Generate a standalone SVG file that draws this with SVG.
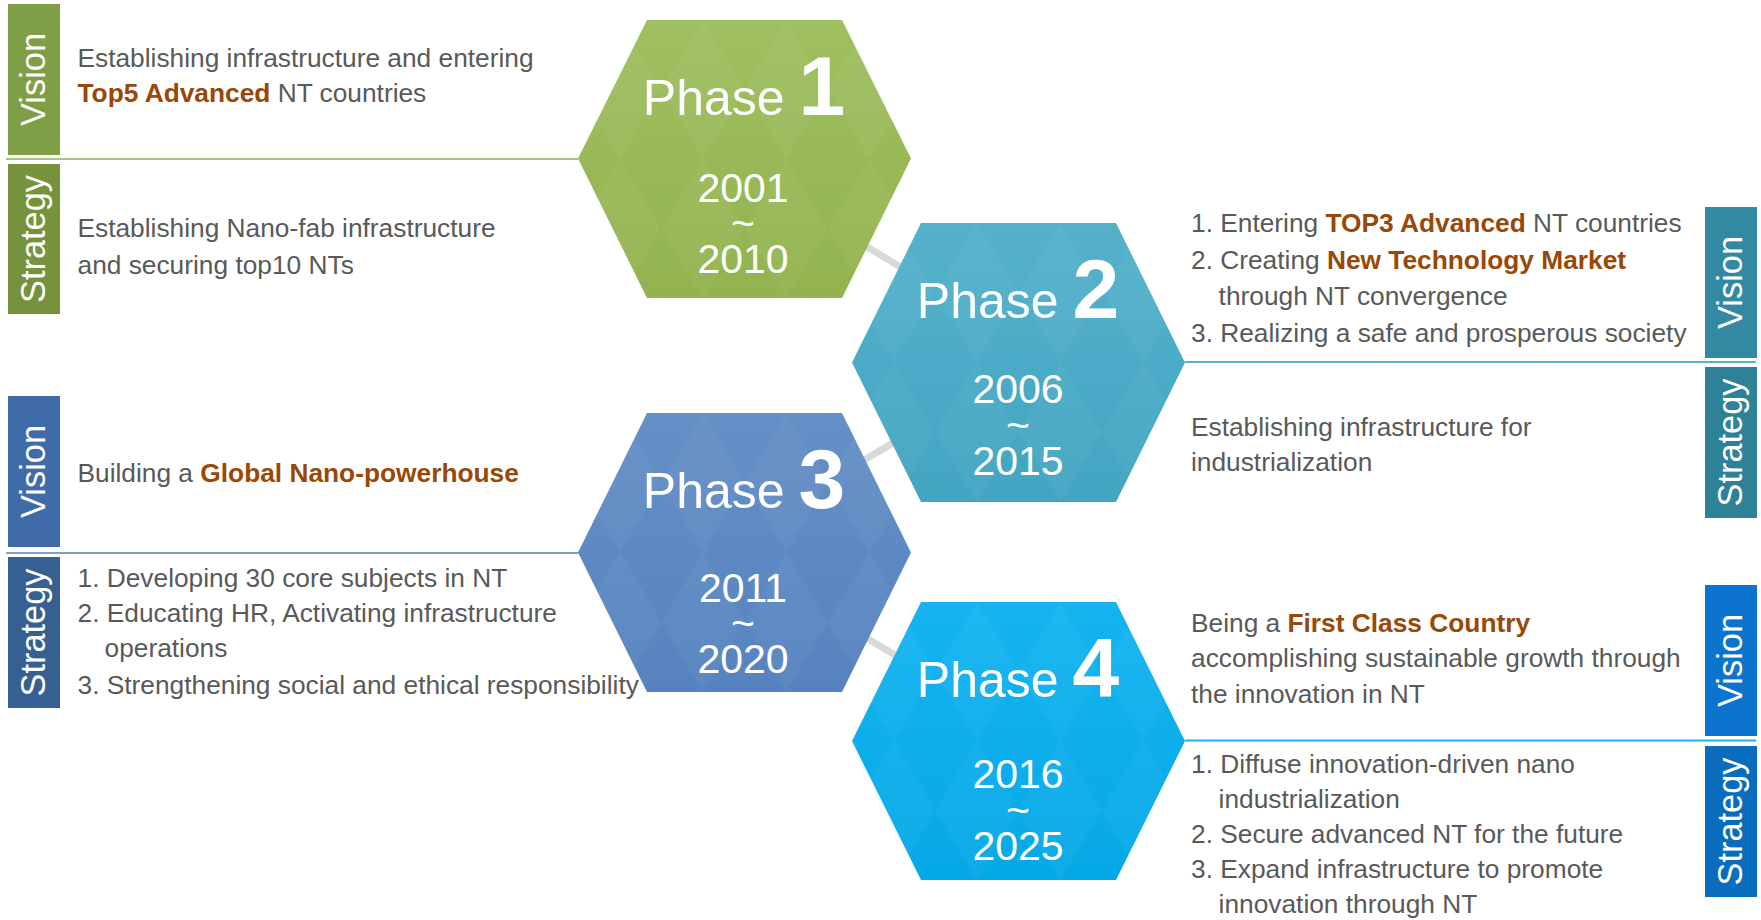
<svg xmlns="http://www.w3.org/2000/svg" width="1761" height="920" viewBox="0 0 1761 920">
  <style>
    .body { font-family: "Liberation Sans", Arial, sans-serif; font-size: 26.3px; fill: #595959; }
    .hl { font-weight: bold; fill: #984807; }
    .tag { font-family: "Liberation Sans", Arial, sans-serif; font-size: 35px; fill: #ffffff; text-anchor: middle; }
    .phase { font-family: "Liberation Sans", Arial, sans-serif; font-size: 50px; fill: #ffffff; text-anchor: middle; }
    .num { font-size: 84px; font-weight: bold; }
    .year { font-family: "Liberation Sans", Arial, sans-serif; font-size: 41px; fill: #ffffff; text-anchor: middle; }
    .link { stroke: #d9d9d9; stroke-width: 7; fill: none; }
  </style>
  <defs>
    <!-- soft argyle texture laid over every hexagon -->
    <pattern id="argyle" patternUnits="objectBoundingBox" width="0.25" height="0.5">
      <polygon points="41.6,0 83.25,69.5 41.6,139 0,69.5" fill="#ffffff" fill-opacity="0.035"/>
    </pattern>
    <linearGradient id="g1" x1="0" y1="0" x2="0" y2="1">
      <stop offset="0" stop-color="#a0bf60"/>
      <stop offset="1" stop-color="#92b350"/>
    </linearGradient>
    <linearGradient id="g2" x1="0" y1="0" x2="0" y2="1">
      <stop offset="0" stop-color="#55b1ca"/>
      <stop offset="1" stop-color="#43a5c2"/>
    </linearGradient>
    <linearGradient id="g3" x1="0" y1="0" x2="0" y2="1">
      <stop offset="0" stop-color="#658fc6"/>
      <stop offset="1" stop-color="#5683bf"/>
    </linearGradient>
    <linearGradient id="g4" x1="0" y1="0" x2="0" y2="1">
      <stop offset="0" stop-color="#15b4f0"/>
      <stop offset="1" stop-color="#05a8e6"/>
    </linearGradient>
  </defs>

  <rect width="1761" height="920" fill="#ffffff"/>

  <!-- links between phases -->
  <g id="connectors">
    <line class="link" x1="820" y1="218.7" x2="940" y2="290.7"/>
    <line class="link" x1="820" y1="486" x2="940" y2="415.2"/>
    <line class="link" x1="820" y1="610" x2="940" y2="682"/>
  </g>

  <!-- Phase 1 -->
  <g id="phase1">
    <line x1="6" y1="159" x2="578" y2="159" stroke="#a9c47f" stroke-width="2"/>
    <rect x="8" y="4" width="52" height="151" fill="#7e9f45"/>
    <rect x="8" y="164" width="52" height="150" fill="#76923c"/>
    <text class="tag" transform="translate(45,79.5) rotate(-90)" textLength="93" lengthAdjust="spacingAndGlyphs">Vision</text>
    <text class="tag" transform="translate(45,239) rotate(-90)" textLength="128" lengthAdjust="spacingAndGlyphs">Strategy</text>
    <text class="body" x="77.5" y="67">Establishing infrastructure and entering</text>
    <text class="body" x="77.5" y="102"><tspan class="hl">Top5 Advanced</tspan> NT countries</text>
    <text class="body" x="77.5" y="237">Establishing Nano-fab infrastructure</text>
    <text class="body" x="77.5" y="274">and securing top10 NTs</text>
    <polygon points="647,20 842,20 911,158.5 842,298 647,298 578,158.5" fill="url(#g1)"/>
    <polygon points="647,20 842,20 911,158.5 842,298 647,298 578,158.5" fill="url(#argyle)"/>
    <text class="phase" x="744" y="115">Phase <tspan class="num">1</tspan></text>
    <text class="year"><tspan x="743" y="201.7">2001</tspan><tspan x="743" y="236.6">~</tspan><tspan x="743" y="273">2010</tspan></text>
  </g>

  <!-- Phase 2 -->
  <g id="phase2">
    <line x1="1185" y1="362" x2="1756" y2="362" stroke="#5bb3cb" stroke-width="2"/>
    <rect x="1705" y="207" width="52" height="151" fill="#3389a1"/>
    <rect x="1705" y="367" width="52" height="151" fill="#2e8196"/>
    <text class="tag" transform="translate(1742,282.5) rotate(-90)" textLength="93" lengthAdjust="spacingAndGlyphs">Vision</text>
    <text class="tag" transform="translate(1742,442.5) rotate(-90)" textLength="128" lengthAdjust="spacingAndGlyphs">Strategy</text>
    <text class="body" x="1191" y="232">1. Entering <tspan class="hl">TOP3 Advanced</tspan> NT countries</text>
    <text class="body" x="1191" y="269">2. Creating <tspan class="hl">New Technology Market</tspan></text>
    <text class="body" x="1218.6" y="305">through NT convergence</text>
    <text class="body" x="1191" y="342">3. Realizing a safe and prosperous society</text>
    <text class="body" x="1191" y="436">Establishing infrastructure for</text>
    <text class="body" x="1191" y="471">industrialization</text>
    <polygon points="921,223 1116,223 1185,362.5 1116,502 921,502 852,362.5" fill="url(#g2)"/>
    <polygon points="921,223 1116,223 1185,362.5 1116,502 921,502 852,362.5" fill="url(#argyle)"/>
    <text class="phase" x="1018" y="318.3">Phase <tspan class="num">2</tspan></text>
    <text class="year"><tspan x="1018" y="403.3">2006</tspan><tspan x="1018" y="438.5">~</tspan><tspan x="1018" y="475">2015</tspan></text>
  </g>

  <!-- Phase 3 -->
  <g id="phase3">
    <line x1="6" y1="553" x2="578" y2="553" stroke="#7e9fcc" stroke-width="2"/>
    <rect x="8" y="396" width="52" height="151" fill="#3f6ba8"/>
    <rect x="8" y="557" width="52" height="151" fill="#376092"/>
    <text class="tag" transform="translate(45,471.5) rotate(-90)" textLength="93" lengthAdjust="spacingAndGlyphs">Vision</text>
    <text class="tag" transform="translate(45,632.5) rotate(-90)" textLength="128" lengthAdjust="spacingAndGlyphs">Strategy</text>
    <text class="body" x="77.5" y="482">Building a <tspan class="hl">Global Nano-powerhouse</tspan></text>
    <text class="body" x="77.5" y="587">1. Developing 30 core subjects in NT</text>
    <text class="body" x="77.5" y="622">2. Educating HR, Activating infrastructure</text>
    <text class="body" x="104.5" y="657">operations</text>
    <text class="body" x="77.5" y="694">3. Strengthening social and ethical responsibility</text>
    <polygon points="647,413 842,413 911,552.5 842,692 647,692 578,552.5" fill="url(#g3)"/>
    <polygon points="647,413 842,413 911,552.5 842,692 647,692 578,552.5" fill="url(#argyle)"/>
    <text class="phase" x="744" y="508.3">Phase <tspan class="num">3</tspan></text>
    <text class="year"><tspan x="743" y="601.7">2011</tspan><tspan x="743" y="637">~</tspan><tspan x="743" y="673.3">2020</tspan></text>
  </g>

  <!-- Phase 4 -->
  <g id="phase4">
    <line x1="1185" y1="740.5" x2="1756" y2="740.5" stroke="#17b4ef" stroke-width="2"/>
    <rect x="1705" y="585" width="52" height="151" fill="#0a74cf"/>
    <rect x="1705" y="746" width="52" height="151" fill="#0a6cbd"/>
    <text class="tag" transform="translate(1742,660.5) rotate(-90)" textLength="93" lengthAdjust="spacingAndGlyphs">Vision</text>
    <text class="tag" transform="translate(1742,821.5) rotate(-90)" textLength="128" lengthAdjust="spacingAndGlyphs">Strategy</text>
    <text class="body" x="1191" y="632">Being a <tspan class="hl">First Class Country</tspan></text>
    <text class="body" x="1191" y="667">accomplishing sustainable growth through</text>
    <text class="body" x="1191" y="703">the innovation in NT</text>
    <text class="body" x="1191" y="773">1. Diffuse innovation-driven nano</text>
    <text class="body" x="1218.6" y="808">industrialization</text>
    <text class="body" x="1191" y="843">2. Secure advanced NT for the future</text>
    <text class="body" x="1191" y="878">3. Expand infrastructure to promote</text>
    <text class="body" x="1218.6" y="913">innovation through NT</text>
    <polygon points="921,602 1116,602 1185,741 1116,880 921,880 852,741" fill="url(#g4)"/>
    <polygon points="921,602 1116,602 1185,741 1116,880 921,880 852,741" fill="url(#argyle)"/>
    <text class="phase" x="1018" y="696.7">Phase <tspan class="num">4</tspan></text>
    <text class="year"><tspan x="1018" y="788.3">2016</tspan><tspan x="1018" y="824">~</tspan><tspan x="1018" y="860">2025</tspan></text>
  </g>
</svg>
